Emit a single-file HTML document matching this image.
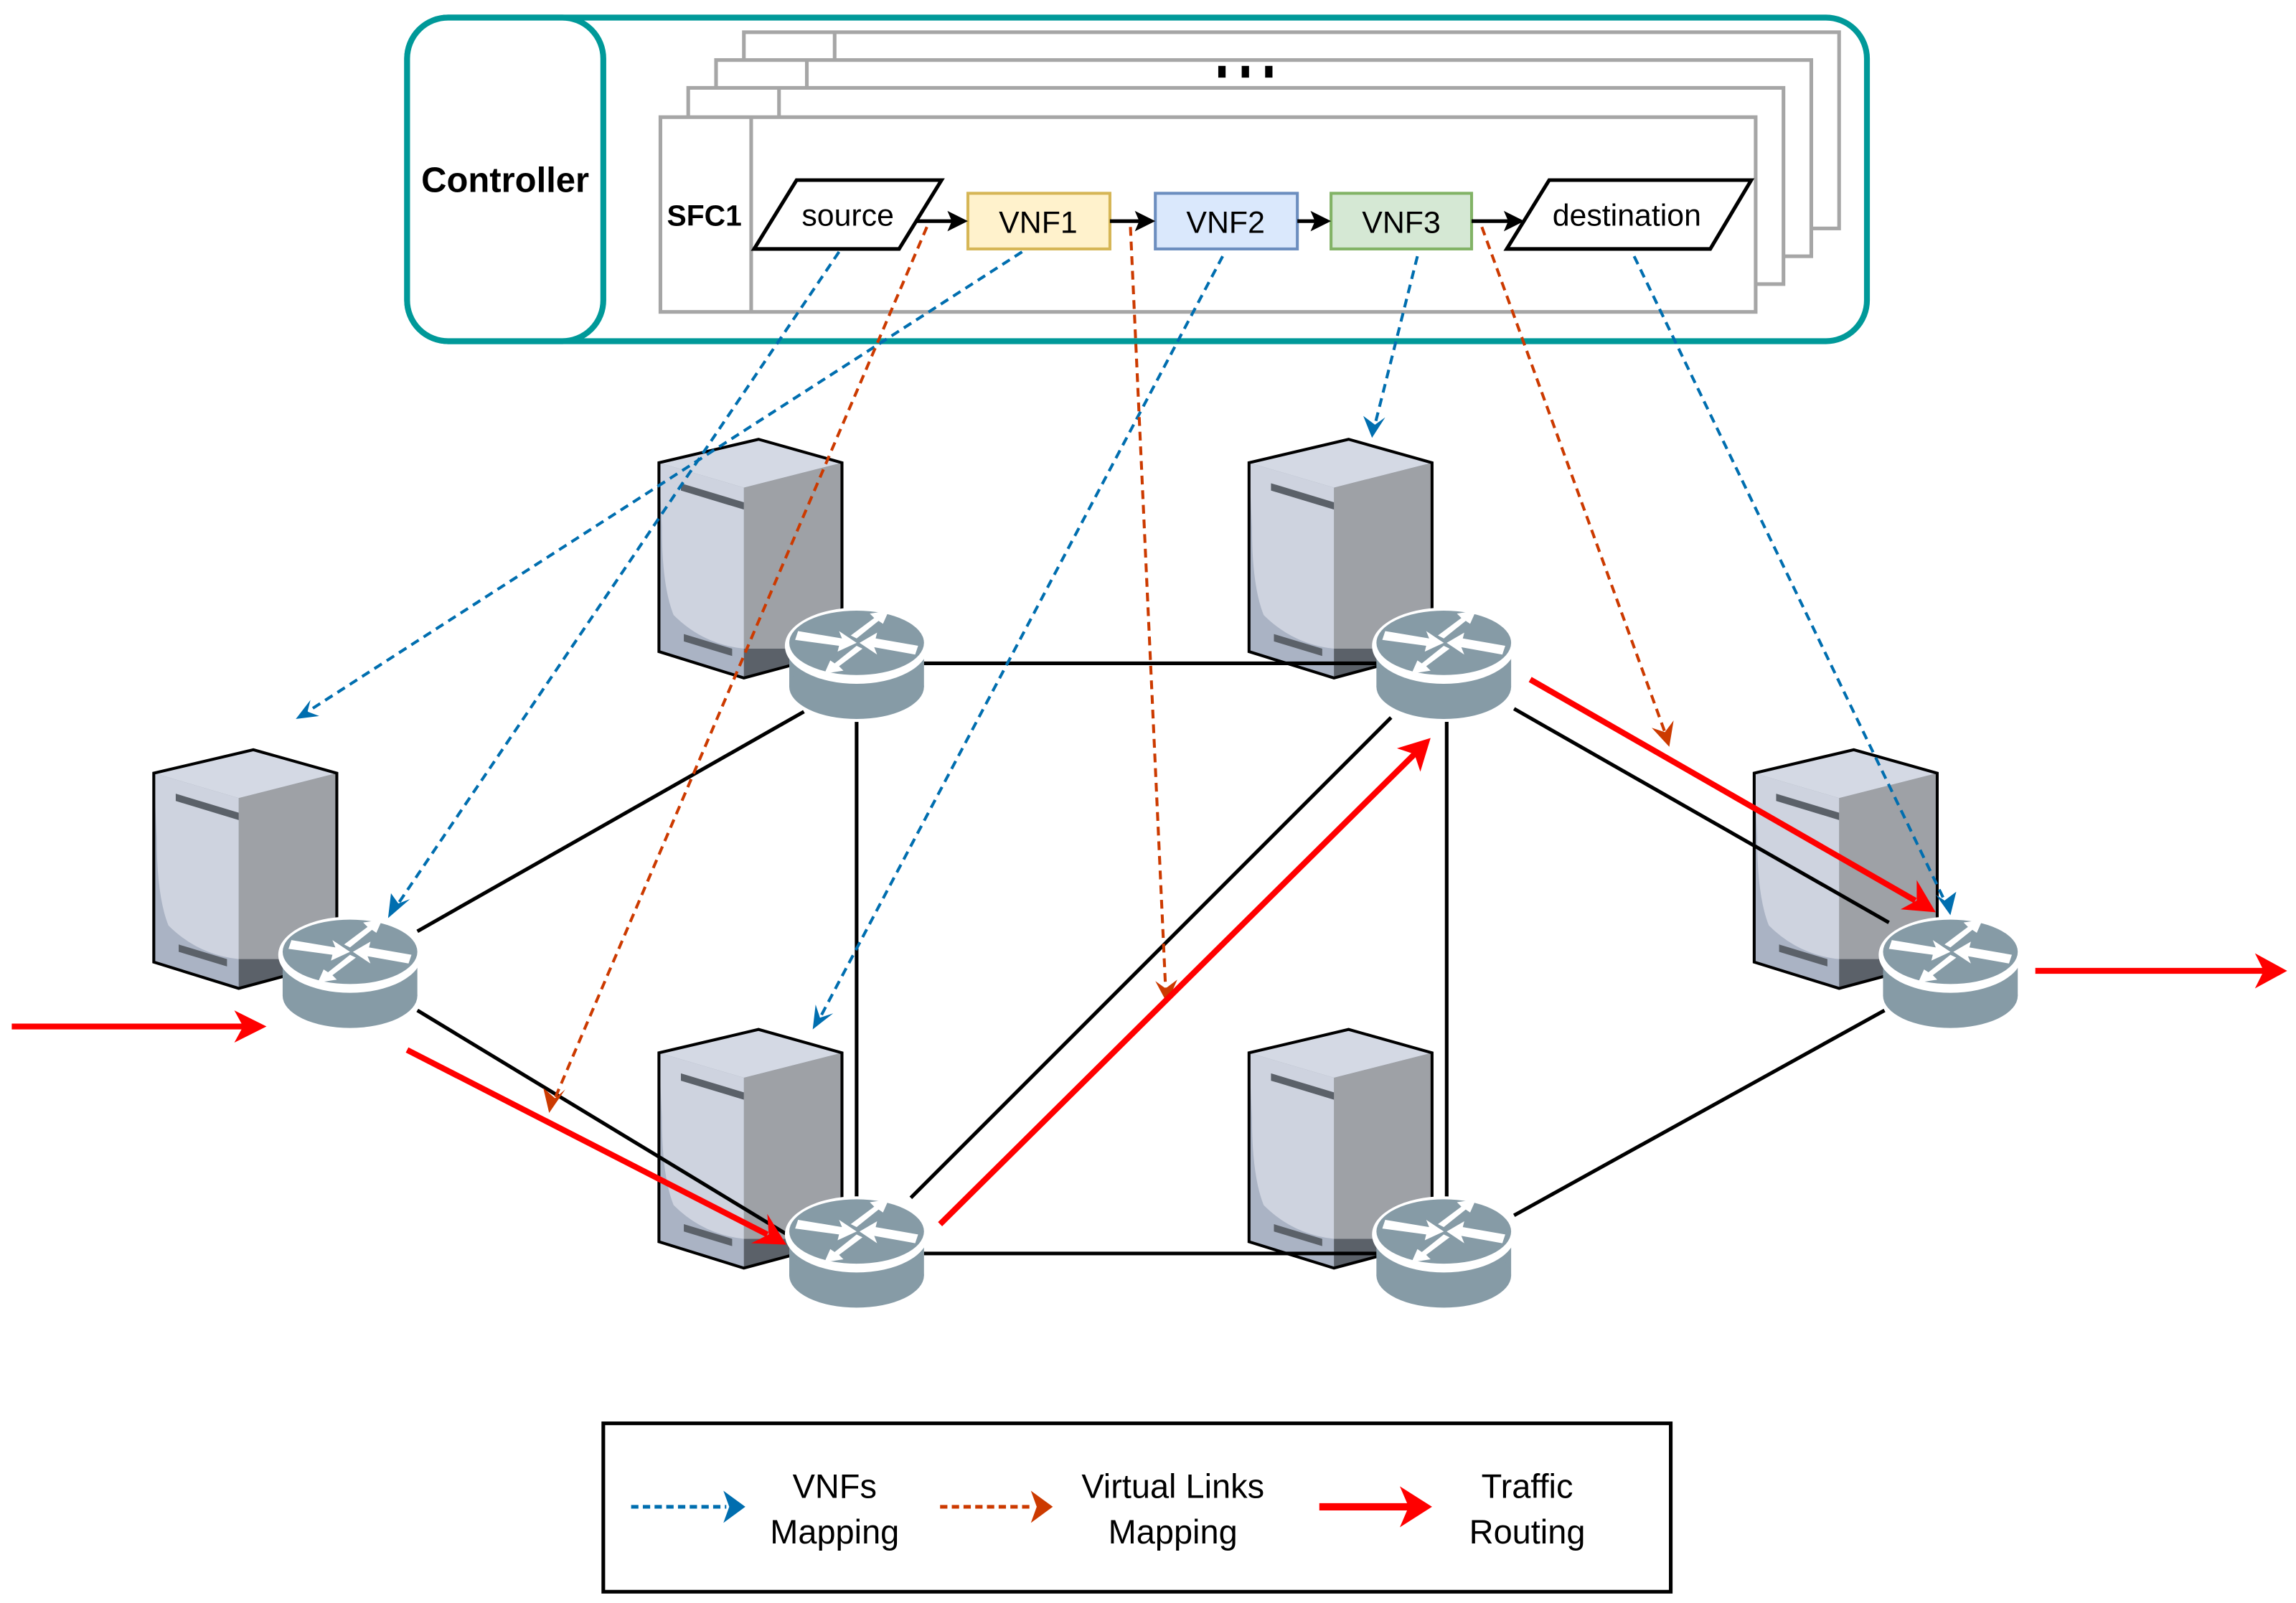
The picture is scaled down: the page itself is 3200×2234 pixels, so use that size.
<!DOCTYPE html>
<html><head><meta charset="utf-8"><style>
html,body{margin:0;padding:0;background:#fff;}
svg{display:block;}
text{font-family:"Liberation Sans",Arial,sans-serif;}
</style></head><body>
<svg width="3200" height="2234" viewBox="0 0 1568 1094.7" xmlns="http://www.w3.org/2000/svg">
<defs>
<g id="srv">
  <polygon points="0,16 68,0 125,16 125,145 58,163 0,145" fill="#5b6169"/>
  <polygon points="0,16 58,33 58,163 0,145" fill="#aab3c4"/>
  <path d="M58,33 L125,16 L125,110 Q120,140 90,143 L58,143 Z" fill="#9ea1a6"/>
  <path d="M0,16 L58,33 L58,143 Q30,140 10,120 Q2,100 2,60 Z" fill="#ced3df"/>
  <polygon points="0,16 68,0 125,16 58,33" fill="#d4d9e4"/>
  <polygon points="15,30 58,43 58,48 15,35" fill="#5b6169"/>
  <polygon points="17,133 50,143 50,148 17,138" fill="#5b6169"/>
  <polygon points="0,16 68,0 125,16 125,145 58,163 0,145" fill="none" stroke="#000" stroke-width="2"/>
</g>
<g id="rtr">
  <ellipse cx="0" cy="28" rx="47" ry="24" fill="#fff"/>
  <rect x="-46" y="0" width="92" height="28" fill="#869ba6"/>
  <ellipse cx="0" cy="28" rx="46" ry="22" fill="#869ba6"/>
  <ellipse cx="0" cy="0" rx="49" ry="26" fill="#fff"/>
  <ellipse cx="0" cy="-2" rx="46" ry="22" fill="#869ba6"/>
  <g fill="#fff">
    <polygon points="-40,-10 -10,-5 -12,-10 0,-2 -13,4 -12,0 -42,-4"/>
    <polygon points="40,6 12,1 14,6 2,-2 14,-9 13,-5 42,0"/>
    <polygon points="-4,-7 12,-19 9,-22 22,-24 18,-15 15,-17 0,-5"/>
    <polygon points="4,2 -12,14 -9,17 -22,19 -18,10 -15,12 0,0"/>
  </g>
</g>
</defs>

<rect x="278" y="12" width="997" height="221" rx="28" fill="#fff" stroke="#009999" stroke-width="4"/>
<rect x="278" y="12" width="134" height="221" rx="28" fill="#fff" stroke="#009999" stroke-width="4"/>
<text x="345" y="131" font-size="24" font-weight="bold" text-anchor="middle">Controller</text>

<g fill="#fff" stroke="#a6a6a6" stroke-width="2.5">
  <rect x="508" y="22" width="748" height="134"/><line x1="570" y1="22" x2="570" y2="156"/>
  <rect x="489" y="41" width="748" height="134"/><line x1="551" y1="41" x2="551" y2="175"/>
  <rect x="470" y="60" width="748" height="134"/><line x1="532" y1="60" x2="532" y2="194"/>
  <rect x="451" y="80" width="748" height="133"/><line x1="513" y1="80" x2="513" y2="213"/>
</g>
<rect x="832" y="45" width="5" height="8" fill="#000"/><rect x="848" y="45" width="5" height="8" fill="#000"/><rect x="864" y="45" width="5" height="8" fill="#000"/>
<text x="481" y="154" font-size="20" font-weight="bold" text-anchor="middle">SFC1</text>

<polygon points="544,123 643,123 614,170 515,170" fill="#fff" stroke="#000" stroke-width="2.5"/>
<text x="579" y="154" font-size="21" text-anchor="middle">source</text>
<rect x="661" y="132" width="97" height="38" fill="#fff2cc" stroke="#d6b656" stroke-width="2"/>
<text x="709" y="159" font-size="21" text-anchor="middle">VNF1</text>
<rect x="789" y="132" width="97" height="38" fill="#dae8fc" stroke="#6c8ebf" stroke-width="2"/>
<text x="837" y="159" font-size="21" text-anchor="middle">VNF2</text>
<rect x="909" y="132" width="96" height="38" fill="#d5e8d4" stroke="#82b366" stroke-width="2"/>
<text x="957" y="159" font-size="21" text-anchor="middle">VNF3</text>
<polygon points="1058,123 1196,123 1168,170 1029,170" fill="#fff" stroke="#000" stroke-width="2.5"/>
<text x="1111" y="154" font-size="21" text-anchor="middle">destination</text>
<g stroke="#000" stroke-width="2.5" fill="#000">
  <line x1="625" y1="151" x2="650" y2="151"/><polygon points="661,151 647,144 650,151 647,158" stroke="none"/>
  <line x1="758" y1="151" x2="778" y2="151"/><polygon points="789,151 775,144 778,151 775,158" stroke="none"/>
  <line x1="886" y1="151" x2="898" y2="151"/><polygon points="909,151 895,144 898,151 895,158" stroke="none"/>
  <line x1="1005" y1="151" x2="1030" y2="151"/><polygon points="1041,151 1027,144 1030,151 1027,158" stroke="none"/>
</g>

<use href="#srv" x="105" y="512"/>
<use href="#srv" x="450" y="300"/>
<use href="#srv" x="853" y="300"/>
<use href="#srv" x="1198" y="512"/>
<use href="#srv" x="450" y="703"/>
<use href="#srv" x="853" y="703"/>

<g stroke="#000" stroke-width="2.5">
  <line x1="285" y1="636" x2="549" y2="486"/>
  <line x1="285" y1="690" x2="549" y2="850"/>
  <line x1="585" y1="490" x2="585" y2="818"/>
  <line x1="631" y1="453" x2="940" y2="453"/>
  <line x1="988" y1="490" x2="988" y2="818"/>
  <line x1="1034" y1="484" x2="1290" y2="630"/>
  <line x1="622" y1="818" x2="950" y2="490"/>
  <line x1="631" y1="856" x2="940" y2="856"/>
  <line x1="1034" y1="830" x2="1287" y2="690"/>
</g>

<use href="#rtr" x="239" y="652"/>
<use href="#rtr" x="585" y="441"/>
<use href="#rtr" x="986" y="441"/>
<use href="#rtr" x="1332" y="652"/>
<use href="#rtr" x="585" y="843"/>
<use href="#rtr" x="986" y="843"/>

<g stroke="#006eaf" stroke-width="2" stroke-dasharray="6,4" fill="none">
  <line x1="573" y1="172" x2="272" y2="617"/>
  <line x1="698" y1="172" x2="210" y2="486"/>
  <line x1="835" y1="175" x2="560" y2="695"/>
  <line x1="968" y1="175" x2="939" y2="290"/>
  <line x1="1116" y1="175" x2="1328" y2="615"/>
</g>
<g fill="#006eaf">
  <polygon points="265,627 267,610 272,617 280,614"/>
  <polygon points="202,491 212,478 210,486 218,489"/>
  <polygon points="555,703 557,686 560,695 569,692"/>
  <polygon points="937,299 931,284 939,290 946,285"/>
  <polygon points="1332,625 1322,611 1328,615 1336,609"/>
</g>
<g stroke="#cc3a00" stroke-width="2" stroke-dasharray="6,4" fill="none">
  <line x1="633" y1="155" x2="379" y2="750"/>
  <line x1="772" y1="155" x2="796" y2="675"/>
  <line x1="1012" y1="155" x2="1137" y2="500"/>
</g>
<g fill="#cc3a00">
  <polygon points="375,760 371,743 379,750 386,744"/>
  <polygon points="797,685 789,670 796,675 804,669"/>
  <polygon points="1140,510 1128,497 1137,500 1143,492"/>
</g>
<g stroke="#ff0000" stroke-width="4" fill="none">
  <line x1="8" y1="701" x2="168" y2="701"/>
  <line x1="278" y1="717" x2="524" y2="843"/>
  <line x1="642" y1="836" x2="967" y2="514"/>
  <line x1="1045" y1="464" x2="1308" y2="615"/>
  <line x1="1390" y1="663" x2="1548" y2="663"/>
</g>
<g fill="#ff0000">
  <polygon points="182,701 160,690 166,701 160,712"/>
  <polygon points="537,850 513,849 525,843 524,829"/>
  <polygon points="977,504 970,527 966,515 954,511"/>
  <polygon points="1322,623 1298,621 1309,615 1309,601"/>
  <polygon points="1562,663 1540,651 1546,663 1540,675"/>
</g>

<rect x="412" y="972" width="729" height="115" fill="#fff" stroke="#000" stroke-width="2.5"/>
<line x1="431" y1="1029" x2="496" y2="1029" stroke="#006eaf" stroke-width="2.5" stroke-dasharray="5,3"/>
<polygon points="509,1029 494,1018 498,1029 494,1040" fill="#006eaf"/>
<text x="570" y="1023" font-size="23" text-anchor="middle">VNFs</text>
<text x="570" y="1054" font-size="23" text-anchor="middle">Mapping</text>
<line x1="642" y1="1029" x2="706" y2="1029" stroke="#cc3a00" stroke-width="2.5" stroke-dasharray="5,3"/>
<polygon points="719,1029 704,1018 708,1029 704,1040" fill="#cc3a00"/>
<text x="801" y="1023" font-size="23" text-anchor="middle">Virtual Links</text>
<text x="801" y="1054" font-size="23" text-anchor="middle">Mapping</text>
<line x1="901" y1="1029" x2="963" y2="1029" stroke="#ff0000" stroke-width="5"/>
<polygon points="978,1029 956,1015 962,1029 956,1043" fill="#ff0000"/>
<text x="1043" y="1023" font-size="23" text-anchor="middle">Traffic</text>
<text x="1043" y="1054" font-size="23" text-anchor="middle">Routing</text>
</svg>
</body></html>
